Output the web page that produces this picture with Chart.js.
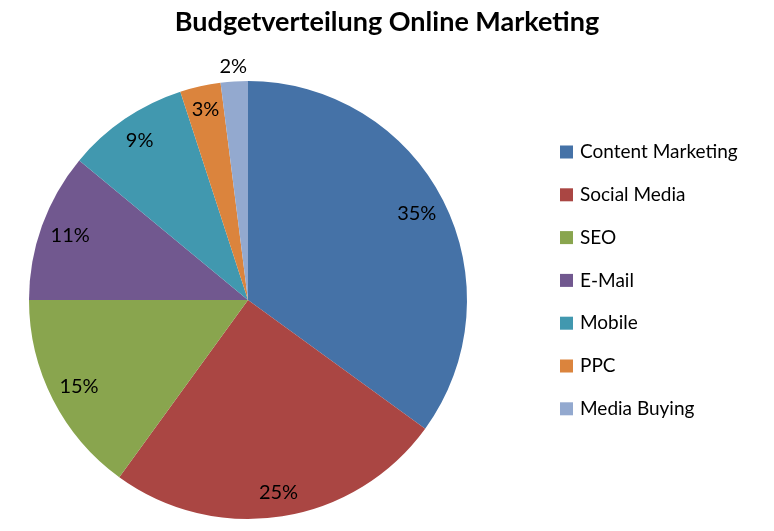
<!DOCTYPE html>
<html>
<head>
<meta charset="utf-8">
<script src="https://cdn.jsdelivr.net/npm/chart.js@4.4.1/dist/chart.umd.min.js"></script>
<style>
  html, body { margin: 0; padding: 0; background: #fff; }
  #wrap { width: 774px; height: 531px; position: relative; }
</style>
</head>
<body>
<div id="wrap"><canvas id="chart"></canvas></div>
<script>
// Daten
const kategorien = ['Content Marketing', 'Social Media', 'SEO', 'E-Mail', 'Mobile', 'PPC', 'Media Buying'];
const anteile = [35, 25, 15, 11, 9, 3, 2];
const farben = ['#4572A7', '#AA4643', '#89A54E', '#71588F', '#4198AF', '#DB843D', '#93A9CF'];
const titel = 'Budgetverteilung Online Marketing';

// Beschriftungen, Titel und Legende selbst zeichnen (Excel-Stil)
const excelStil = {
  id: 'excelStil',
  afterDraw(chart, args, opts) {
    const ctx = chart.ctx;
    const meta = chart.getDatasetMeta(0);
    ctx.save();
    ctx.fillStyle = '#000';
    ctx.textBaseline = 'middle';

    // Prozentwerte
    ctx.font = '20px Lato, "Open Sans", sans-serif';
    ctx.textAlign = 'center';
    meta.data.forEach((arc, i) => {
      const mid = (arc.startAngle + arc.endAngle) / 2;
      const r = arc.outerRadius * opts.labelRadius[i];
      ctx.fillText(anteile[i] + '%', arc.x + Math.cos(mid) * r, arc.y + Math.sin(mid) * r);
    });

    // Titel
    ctx.font = 'bold 27px Lato, "Open Sans", sans-serif';
    ctx.fillText(titel, chart.width / 2, 22);

    // Legende
    ctx.font = '19px Lato, "Open Sans", sans-serif';
    ctx.textAlign = 'left';
    kategorien.forEach((k, i) => {
      const y = opts.legendTop + i * opts.legendStep;
      ctx.fillStyle = farben[i];
      ctx.fillRect(560, y - 6.5, 13, 13);
      ctx.fillStyle = '#000';
      ctx.fillText(k, 580, y);
    });
    ctx.restore();
  }
};

new Chart(document.getElementById('chart'), {
  type: 'pie',
  data: {
    labels: kategorien,
    datasets: [{
      data: anteile,
      backgroundColor: farben,
      borderWidth: 0
    }]
  },
  options: {
    responsive: true,
    maintainAspectRatio: false,
    animation: false,
    layout: {
      padding: { left: 29, right: 307, top: 81, bottom: 12 }
    },
    plugins: {
      legend: { display: false },
      title: { display: false },
      tooltip: { enabled: false },
      excelStil: {
        labelRadius: [0.865, 0.89, 0.866, 0.863, 0.88, 0.89, 1.07],
        legendTop: 152,
        legendStep: 42.8
      }
    }
  },
  plugins: [excelStil]
});
</script>
</body>
</html>
